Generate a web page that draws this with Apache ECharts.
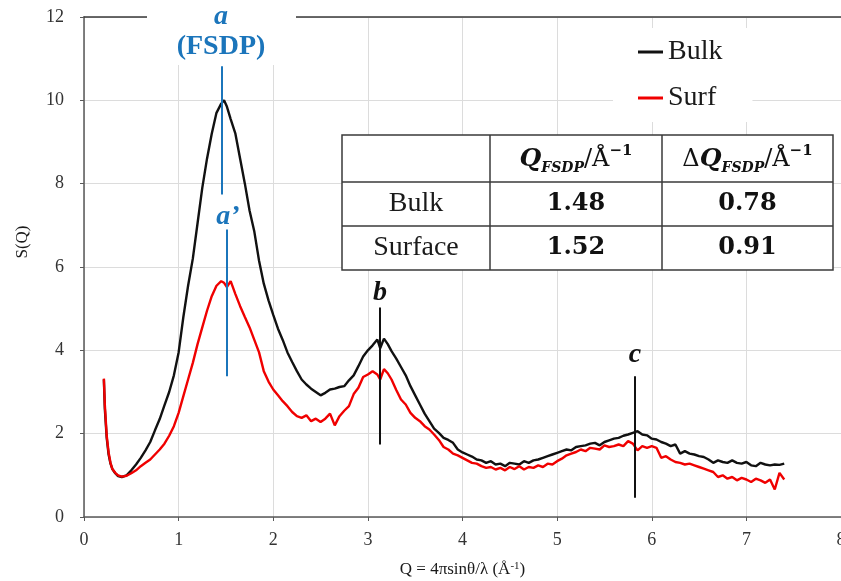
<!DOCTYPE html>
<html lang="en">
<head>
    <meta charset="UTF-8">
    <title>S(Q)</title>
    <script src="https://cdn.jsdelivr.net/npm/echarts@6.0.0/dist/echarts.min.js"></script>
    <style>
        body { margin: 0; background: #fff; }
    </style>
</head>
<body>
<div id="main" style="width:841px;height:581px;"></div>
<script type="text/javascript">
    // Q values (1/Å) shared by both curves
    var qValues = [
        0.21, 0.22, 0.24, 0.26, 0.28, 0.30, 0.33, 0.36, 0.40,
        0.45, 0.50, 0.55, 0.60, 0.65, 0.70, 0.75, 0.80, 0.85, 0.90, 0.95, 1.00,
        1.05, 1.10, 1.15, 1.20, 1.25, 1.30, 1.35, 1.40, 1.45,
        1.48, 1.51, 1.55, 1.60,
        1.65, 1.70, 1.75, 1.80, 1.85, 1.90, 1.95, 2.00, 2.05, 2.10, 2.15, 2.20, 2.25, 2.30, 2.35,
        2.40, 2.45, 2.50, 2.55, 2.60, 2.65, 2.70, 2.75, 2.80, 2.85, 2.90, 2.95, 3.00, 3.05, 3.10,
        3.13, 3.17, 3.21, 3.25,
        3.30, 3.35, 3.40, 3.45, 3.50, 3.55, 3.60, 3.65, 3.70, 3.75, 3.80, 3.85, 3.90, 3.95,
        4.00, 4.05, 4.10, 4.15, 4.20, 4.25, 4.30, 4.35, 4.40, 4.45, 4.50, 4.55, 4.60, 4.65, 4.70, 4.75, 4.80, 4.85, 4.90, 4.95,
        5.00, 5.05, 5.10, 5.15, 5.20, 5.25, 5.30, 5.35, 5.40, 5.45, 5.50, 5.55, 5.60, 5.65, 5.70, 5.75, 5.80, 5.85, 5.90, 5.95,
        6.00, 6.05, 6.10, 6.15, 6.20, 6.25, 6.30, 6.35, 6.40, 6.45, 6.50, 6.55, 6.60, 6.65, 6.70, 6.75, 6.80, 6.85, 6.90, 6.95,
        7.00, 7.05, 7.10, 7.15, 7.20, 7.25, 7.30, 7.35, 7.40
    ];
    var bulkS = [
        3.3, 2.6, 1.9, 1.5, 1.28, 1.15, 1.05, 0.98, 0.96,
        1.0, 1.12, 1.26, 1.42, 1.6, 1.8, 2.08, 2.35, 2.68, 3.0, 3.4, 3.95,
        4.8, 5.55, 6.2, 7.05, 7.9, 8.6, 9.2, 9.7, 9.92,
        10.0, 9.85, 9.55, 9.2,
        8.6, 8.0, 7.35, 6.85, 6.15, 5.6, 5.2, 4.85, 4.52, 4.25, 3.95, 3.72, 3.5, 3.3, 3.18,
        3.08, 3.0, 2.92, 2.98, 3.06, 3.08, 3.12, 3.14, 3.28, 3.4, 3.62, 3.85, 4.0, 4.12, 4.26,
        4.05, 4.28, 4.15, 3.98,
        3.8, 3.6, 3.4, 3.14, 2.92, 2.7, 2.48, 2.3, 2.12, 2.02, 1.9, 1.85, 1.78, 1.62,
        1.55, 1.5, 1.45, 1.38, 1.36, 1.3, 1.34, 1.26, 1.28, 1.22, 1.3, 1.28, 1.26, 1.34, 1.3, 1.36, 1.38, 1.42, 1.46, 1.5,
        1.54, 1.58, 1.62, 1.6, 1.68, 1.7, 1.72, 1.76, 1.78, 1.72, 1.8, 1.84, 1.88, 1.9, 1.95, 1.98, 2.02, 2.06, 1.98, 1.96,
        1.88, 1.86, 1.8, 1.76, 1.7, 1.74, 1.52, 1.58, 1.52, 1.5, 1.46, 1.44, 1.38, 1.3, 1.36, 1.32, 1.3, 1.36, 1.3, 1.28,
        1.32, 1.24, 1.22, 1.3, 1.26, 1.24, 1.26, 1.25, 1.28
    ];
    var surfS = [
        3.32, 2.7, 1.95, 1.55, 1.3, 1.15, 1.06, 1.0, 0.97,
        0.99, 1.05, 1.12, 1.22, 1.3, 1.38, 1.5, 1.62, 1.76, 1.95, 2.18, 2.5,
        2.9, 3.3, 3.7, 4.15, 4.55, 4.95, 5.3, 5.55, 5.66,
        5.62, 5.52, 5.66, 5.35,
        5.06, 4.8, 4.55, 4.25, 3.95, 3.5, 3.25, 3.06, 2.92, 2.78, 2.66, 2.52, 2.42, 2.38, 2.44,
        2.3, 2.36, 2.28, 2.36, 2.48, 2.2, 2.42, 2.55, 2.66, 2.95, 3.1, 3.36, 3.42, 3.5, 3.42,
        3.3, 3.55, 3.45, 3.3,
        3.05, 2.82, 2.7, 2.5, 2.38, 2.3, 2.18, 2.1, 1.98, 1.85, 1.68, 1.62, 1.52, 1.48,
        1.42, 1.36, 1.3, 1.28, 1.22, 1.18, 1.2, 1.14, 1.18, 1.12, 1.2, 1.15, 1.22, 1.14, 1.2, 1.18, 1.24, 1.2, 1.28, 1.26,
        1.34, 1.4, 1.48, 1.52, 1.56, 1.62, 1.58, 1.66, 1.64, 1.62, 1.72, 1.68, 1.7, 1.74, 1.7, 1.82, 1.76, 1.6, 1.7, 1.66,
        1.7, 1.66, 1.42, 1.46, 1.38, 1.32, 1.3, 1.26, 1.28, 1.24, 1.2, 1.16, 1.12, 1.08, 0.96, 1.0, 0.92, 0.96, 0.88, 0.94,
        0.9, 0.84, 0.92, 0.88, 0.82, 0.9, 0.66, 1.06, 0.9
    ];

    // peak markers: [Q, S from, S to]
    var peakA = [1.46, 7.74, 10.82];
    var peakA2 = [1.505, 3.38, 6.9];
    var peakB = [3.13, 1.74, 5.03];
    var peakC = [5.82, 0.46, 3.38];

    // inset table
    var tableRows = ['Bulk', 'Surface'];
    var qFsdp = ['1.48', '1.52'];
    var dqFsdp = ['0.78', '0.91'];

    var serif = '"Liberation Serif", "Times New Roman", serif';
    var mathSerif = '"DejaVu Serif", serif';
    var blue = '#1b75bb';

    function pairs(ys) {
        return qValues.map(function (q, i) { return [q, ys[i]]; });
    }

    function markSeg(p, color) {
        return [{coord: [p[0], p[1]], lineStyle: {color: color, width: 2, type: 'solid'}},
                {coord: [p[0], p[2]]}];
    }

    function txt(x, y, text, font, color) {
        return {
            type: 'text', z: 60,
            style: {x: x, y: y, text: text, font: font, fill: color,
                    textAlign: 'center', textVerticalAlign: 'middle', align: 'center', verticalAlign: 'middle'}
        };
    }

    // table geometry
    var colX = [342, 490, 662, 833];
    var rowY = [135, 182, 226, 270];
    var headerRich = {
        q: {font: 'bold italic 25px ' + mathSerif, fill: '#111', lineHeight: 32},
        s: {font: 'bold italic 14px ' + mathSerif, fill: '#111', verticalAlign: 'bottom', lineHeight: 16},
        n: {font: '24px ' + mathSerif, fill: '#111', lineHeight: 32},
        p: {font: 'bold 15px ' + mathSerif, fill: '#111', verticalAlign: 'top', lineHeight: 16}
    };
    var tableEls = [
        {type: 'rect', z: 55, shape: {x: colX[0], y: rowY[0], width: colX[3] - colX[0], height: rowY[3] - rowY[0]},
         style: {fill: '#fff', stroke: '#3a3a3a', lineWidth: 1.5}}
    ];
    [colX[1], colX[2]].forEach(function (x) {
        tableEls.push({type: 'line', z: 56, shape: {x1: x, y1: rowY[0], x2: x, y2: rowY[3]},
            style: {stroke: '#3a3a3a', lineWidth: 1.5}});
    });
    [rowY[1], rowY[2]].forEach(function (y) {
        tableEls.push({type: 'line', z: 56, shape: {x1: colX[0], y1: y, x2: colX[3], y2: y},
            style: {stroke: '#3a3a3a', lineWidth: 1.5}});
    });
    var headerTexts = ['{q|Q}{s|FSDP}{n|/Å}{p|−1}', '{n|Δ}{q|Q}{s|FSDP}{n|/Å}{p|−1}'];
    headerTexts.forEach(function (t, i) {
        tableEls.push({type: 'text', z: 60, style: {
            x: (colX[i + 1] + colX[i + 2]) / 2, y: (rowY[0] + rowY[1]) / 2 + 1, text: t, rich: headerRich,
            textAlign: 'center', textVerticalAlign: 'middle', align: 'center', verticalAlign: 'middle'}});
    });
    tableRows.forEach(function (name, r) {
        var cy = (rowY[r + 1] + rowY[r + 2]) / 2;
        tableEls.push(txt((colX[0] + colX[1]) / 2, cy, name, '28px ' + serif, '#1a1a1a'));
        tableEls.push(txt((colX[1] + colX[2]) / 2, cy, qFsdp[r], 'bold 24px ' + mathSerif, '#111'));
        tableEls.push(txt((colX[2] + colX[3]) / 2, cy, dqFsdp[r], 'bold 24px ' + mathSerif, '#111'));
    });

    var chart = echarts.init(document.getElementById('main'));
    chart.setOption({
        animation: false,
        grid: {left: 84, right: 0, top: 17, bottom: 64, containLabel: false, outerBoundsMode: 'none'},
        legend: {
            data: ['Bulk', 'Surf'],
            orient: 'vertical',
            left: 613, top: 28,
            padding: [10, 30, 10, 25],
            backgroundColor: '#fff',
            icon: 'rect', itemWidth: 25, itemHeight: 3, itemGap: 18,
            textStyle: {fontFamily: serif, fontSize: 28, color: '#1a1a1a'}
        },
        xAxis: [{
            type: 'value', min: 0, max: 8, interval: 1,
            name: 'Q = 4πsinθ/λ (Å{sup|-1})',
            nameLocation: 'middle', nameGap: 44,
            nameTextStyle: {fontFamily: serif, fontSize: 17, color: '#1a1a1a',
                rich: {sup: {fontFamily: serif, fontSize: 11, verticalAlign: 'top', lineHeight: 12}}},
            axisLine: {lineStyle: {color: '#595959', width: 1.5}},
            axisTick: {show: true, length: 4, lineStyle: {color: '#595959'}},
            axisLabel: {fontFamily: serif, fontSize: 18, color: '#333', margin: 14},
            splitLine: {show: true, lineStyle: {color: '#dcdcdc', width: 1}}
        }, {
            type: 'value', min: 0, max: 8, position: 'top',
            axisLine: {show: true, onZero: false, lineStyle: {color: '#3a3a3a', width: 1.5}},
            axisTick: {show: false}, axisLabel: {show: false}, splitLine: {show: false}
        }],
        yAxis: {
            type: 'value', min: 0, max: 12, interval: 2,
            name: 'S(Q)', nameLocation: 'middle', nameGap: 53,
            nameTextStyle: {fontFamily: serif, fontSize: 17, color: '#1a1a1a', padding: [0, 0, 0, 50]},
            axisLine: {show: true, lineStyle: {color: '#595959', width: 1.5}},
            axisTick: {show: true, length: 4, lineStyle: {color: '#595959'}},
            axisLabel: {fontFamily: serif, fontSize: 18, color: '#333', margin: 20},
            splitLine: {show: true, lineStyle: {color: '#dcdcdc', width: 1}}
        },
        series: [{
            name: 'Bulk', type: 'line', data: pairs(bulkS),
            symbol: 'none', showSymbol: false,
            lineStyle: {color: '#111', width: 2.4}, itemStyle: {color: '#111'},
            markLine: {
                silent: true, symbol: ['none', 'none'], label: {show: false},
                data: [markSeg(peakA, blue), markSeg(peakA2, blue), markSeg(peakB, '#111'), markSeg(peakC, '#111')]
            }
        }, {
            name: 'Surf', type: 'line', data: pairs(surfS),
            symbol: 'none', showSymbol: false,
            lineStyle: {color: '#f00000', width: 2.4}, itemStyle: {color: '#f00000'}
        }],
        graphic: [
            {type: 'rect', z: 50, shape: {x: 147, y: 0, width: 149, height: 65}, style: {fill: '#fff'}},
            txt(221, 17, 'a', 'bold italic 28px ' + serif, blue),
            txt(221, 47, '(FSDP)', 'bold 28px ' + serif, blue),
            txt(228, 217, 'a’', 'bold italic 28px ' + serif, blue),
            txt(380, 293, 'b', 'bold italic 28px ' + serif, '#111'),
            txt(635, 355, 'c', 'bold italic 28px ' + serif, '#111')
        ].concat(tableEls)
    });
</script>
</body>
</html>
